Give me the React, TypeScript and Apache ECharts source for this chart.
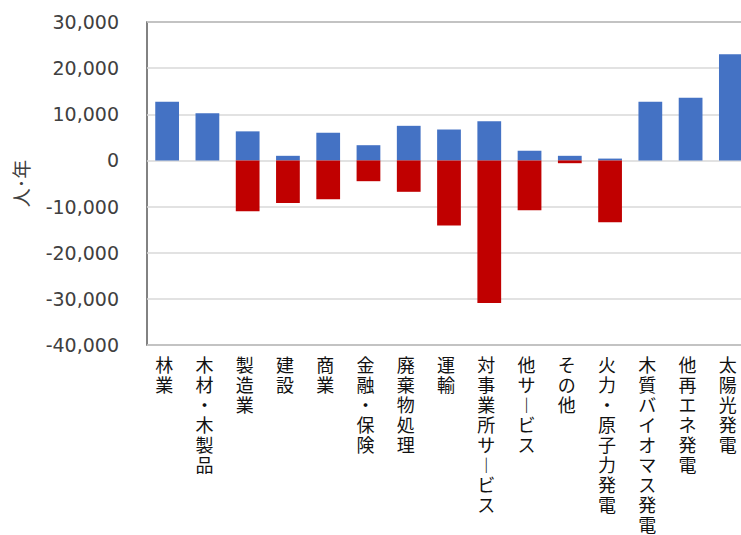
import React, { useEffect, useRef } from "react";
import * as echarts from "echarts";

// 産業別の雇用変化（人・年）: 増加分と減少分
const categories = [
  "林業",
  "木材・木製品",
  "製造業",
  "建設",
  "商業",
  "金融・保険",
  "廃棄物処理",
  "運輸",
  "対事業所サービス",
  "他サービス",
  "その他",
  "火力・原子力発電",
  "木質バイオマス発電",
  "他再エネ発電",
  "太陽光発電",
];

const increase = [12700, 10200, 6300, 1000, 6000, 3300, 7500, 6700, 8500, 2100, 1000, 400, 12700, 13600, 23000];
const decrease = [0, 0, -11000, -9200, -8400, -4500, -6800, -14100, -30900, -10800, -600, -13400, 0, 0, 0];

const yMin = -40000;
const yMax = 30000;
const yStep = 10000;

// 縦書き: 1文字ずつ改行し、長音符は縦書き用の字形に置き換える
const toVertical = (s: string) =>
  Array.from(s)
    .map((c) => (c === "ー" ? "︱" : c))
    .join("\n");

export default function App() {
  const ref = useRef<HTMLDivElement>(null);

  useEffect(() => {
    if (!ref.current) return;
    const chart = echarts.init(ref.current, null, { renderer: "svg" });
    chart.setOption({
      animation: false,
      backgroundColor: "#ffffff",
      grid: {
        left: 147,
        width: 604,
        top: 22,
        bottom: 190,
        outerBoundsMode: "none",
        containLabel: false,
        show: true,
        borderColor: "#595959",
        borderWidth: 1.5,
      },
      xAxis: {
        type: "category",
        data: categories,
        axisLine: { show: false },
        axisTick: { show: false },
        axisLabel: {
          interval: 0,
          margin: 9,
          padding: [0, 6, 0, 0],
          color: "#111111",
          fontSize: 18,
          lineHeight: 20,
          fontFamily: "'Noto Sans CJK JP', sans-serif",
          formatter: (v: string) => toVertical(v),
        },
      },
      yAxis: {
        type: "value",
        min: yMin,
        max: yMax,
        interval: yStep,
        name: "人･年",
        nameLocation: "middle",
        nameRotate: 90,
        nameGap: 117,
        nameTextStyle: {
          color: "#404040",
          fontSize: 19,
          fontFamily: "'Noto Sans CJK JP', sans-serif",
        },
        axisLine: { show: false },
        axisTick: { show: false },
        axisLabel: {
          margin: 28,
          color: "#404040",
          fontSize: 19,
          fontFamily: "'DejaVu Sans', Verdana, sans-serif",
          formatter: (v: number) => v.toLocaleString("en-US"),
        },
        splitLine: { lineStyle: { color: "#d9d9d9", width: 1.5 } },
      },
      series: [
        {
          name: "増加",
          type: "bar",
          stack: "total",
          data: increase,
          barWidth: "59%",
          itemStyle: { color: "#4472c4" },
        },
        {
          name: "減少",
          type: "bar",
          stack: "total",
          data: decrease,
          barWidth: "59%",
          itemStyle: { color: "#c00000" },
        },
      ],
    });
    return () => chart.dispose();
  }, []);

  return (
    <div
      ref={ref}
      style={{ position: "fixed", left: 0, top: 0, width: 741, height: 535, overflow: "hidden" }}
    />
  );
}
